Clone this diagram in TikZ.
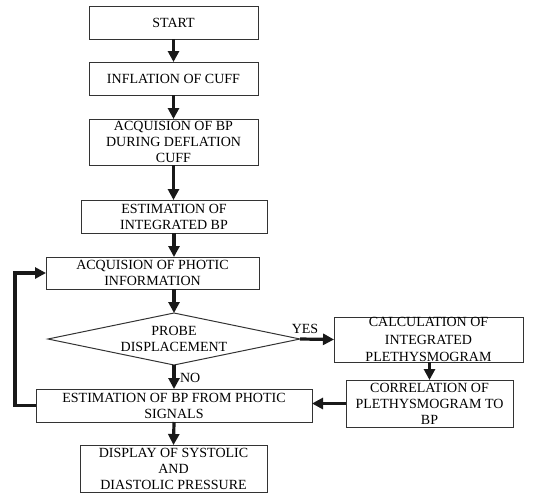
\documentclass[tikz,border=0pt]{standalone}
\usepackage{fontspec}
\setmainfont{Liberation Serif}
\usetikzlibrary{shapes.geometric,arrows.meta}
\begin{document}
\begin{tikzpicture}[x=1pt,y=-1pt,
  every node/.style={inner sep=0pt,outer sep=0pt,align=center,
    font=\fontsize{14}{16}\selectfont,text=black},
  box/.style={draw=black!80,line width=1pt,rectangle},
  dia/.style={draw=black!80,line width=1pt,diamond,aspect=4.85},
  arr/.style={line width=3.2pt,black!90,-{Triangle[length=11pt,width=11pt]}},
  lbl/.style={font=\fontsize{14}{16}\selectfont}]
\useasboundingbox (0,0) rectangle (540,493);
\node[box,minimum width=169pt,minimum height=33pt] (start) at (173.5,22.5) {START};
\node[box,minimum width=169pt,minimum height=33pt] (infl) at (173.5,78.5) {INFLATION OF CUFF};
\node[box,minimum width=169pt,minimum height=46pt] (acq) at (173.5,142) {ACQUISION OF BP\\DURING DEFLATION\\CUFF};
\node[box,minimum width=186pt,minimum height=33pt] (est) at (174,216.5) {ESTIMATION OF\\INTEGRATED BP};
\node[box,minimum width=213pt,minimum height=32pt] (photic) at (152.5,273) {ACQUISION OF PHOTIC\\INFORMATION};
\node[dia,minimum width=252pt,minimum height=52pt] (probe) at (174,339) {PROBE\\DISPLACEMENT};
\node[box,minimum width=189pt,minimum height=45pt,font=\fontsize{14}{17.5}\selectfont] (calc) at (428.5,339.5) {CALCULATION OF\\INTEGRATED\\PLETHYSMOGRAM};
\node[box,minimum width=167pt,minimum height=47pt] (corr) at (429.5,403.5) {CORRELATION OF\\PLETHYSMOGRAM TO\\BP};
\node[box,minimum width=276pt,minimum height=33pt] (estbp) at (174,405.5) {ESTIMATION OF BP FROM PHOTIC\\SIGNALS};
\node[box,minimum width=187pt,minimum height=47pt] (disp) at (173.5,468.5) {DISPLAY OF SYSTOLIC\\AND\\DIASTOLIC PRESSURE};
\node[lbl] (yes) at (305,329) {YES};
\node[lbl,anchor=west] (no) at (180,378) {NO};
\draw[arr] (start.south) -- (infl.north);
\draw[arr] (infl.south) -- (acq.north);
\draw[arr] (acq.south) -- (acq.south |- est.north);
\draw[arr] (est.south) -- (est.south |- photic.north);
\draw[arr] (probe.north |- photic.south) -- (probe.north);
\draw[arr] (probe.east) -- (calc.west);
\draw[arr] (probe.south) -- (estbp.north);
\draw[arr] (corr.north |- calc.south) -- (corr.north);
\draw[arr] (corr.west) -- (corr.west -| estbp.east);
\draw[arr] (estbp.south) -- (disp.north);
\draw[arr] (estbp.west) -- ++(-21,0) |- (photic.west);
\end{tikzpicture}
\end{document}
